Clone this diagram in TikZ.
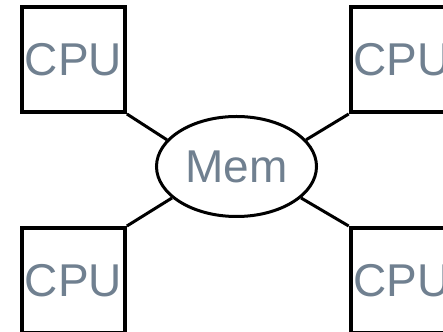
\documentclass[tikz,border=0pt]{standalone}
\usepackage{fontspec}
\setmainfont{Liberation Sans}
\usetikzlibrary{shapes.geometric}
\definecolor{txtgray}{RGB}{112,128,144}
\tikzset{
  cpubox/.style={draw=black, line width=4pt, minimum width=103pt, minimum height=105pt, inner sep=0pt,
    text=txtgray, font=\fontsize{46}{50}\selectfont},
  membox/.style={ellipse, draw=black, line width=3pt, minimum width=160pt, minimum height=100pt, inner sep=0pt,
    text=txtgray, font=\fontsize{46}{50}\selectfont},
  link/.style={draw=black, line width=3pt}
}
\begin{document}
\begin{tikzpicture}[x=1pt,y=1pt]
\useasboundingbox (0,0) rectangle (443,331);
\clip (0,0) rectangle (443,331);
\fill[white] (0,0) rectangle (443,331);
\node[cpubox] (tl) at (73.4,271.5) {CPU};
\node[cpubox] (tr) at (402.2,271.5) {CPU};
\node[cpubox] (bl) at (73.4,50.5) {CPU};
\node[cpubox] (br) at (402.2,50.5) {CPU};
\node[membox] (mem) at (236.5,164.5) {Mem};
\draw[link] (tl.south east) -- (mem.159);
\draw[link] (tr.south west) -- (mem.21);
\draw[link] (bl.north east) -- (mem.206);
\draw[link] (br.north west) -- (mem.334);
\end{tikzpicture}
\end{document}
